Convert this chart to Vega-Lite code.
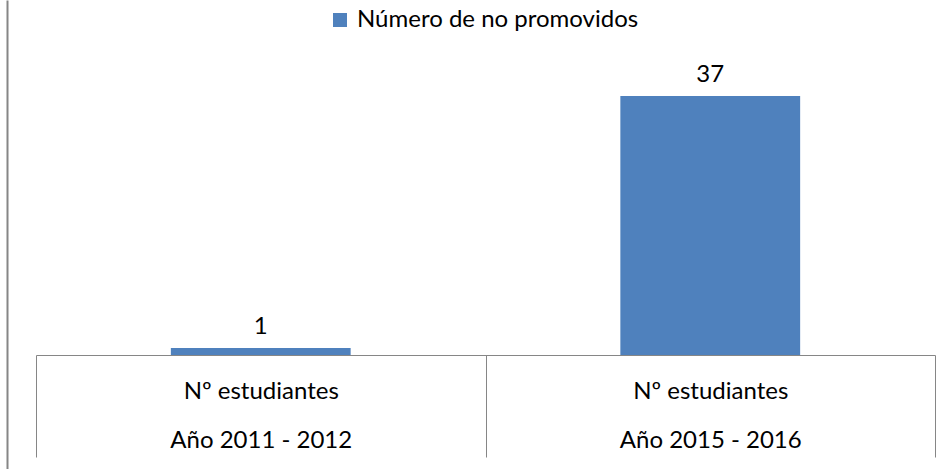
{
  "$schema": "https://vega.github.io/schema/vega-lite/v6.json",
  "width": 951,
  "height": 469,
  "autosize": "none",
  "padding": 0,
  "background": "white",
  "config": {
    "view": {"stroke": null},
    "font": "Lato",
    "text": {"font": "Lato"}
  },
  "data": {
    "values": [
      {"cat": "Año 2011 - 2012", "value": 1, "serie": "Número de no promovidos"},
      {"cat": "Año 2015 - 2016", "value": 37, "serie": "Número de no promovidos"}
    ]
  },
  "encoding": {
    "x": {
      "field": "cat",
      "type": "nominal",
      "sort": null,
      "scale": {"range": [36, 935], "paddingInner": 0, "paddingOuter": 0},
      "axis": {
        "title": null,
        "orient": "bottom",
        "offset": -114,
        "domainColor": "#868686",
        "domainWidth": 1,
        "tickColor": "#868686",
        "tickWidth": 1,
        "tickSize": 102,
        "tickBand": "extent",
        "labelAngle": 0,
        "labelExpr": "datum.label ? ['Nº estudiantes', datum.label] : ''",
        "labelFont": "Lato",
        "labelFontSize": 24,
        "labelColor": "#000000",
        "labelLineHeight": 49,
        "labelBaseline": "middle",
        "labelPadding": -66,
        "labelLimit": 400
      }
    },
    "y": {
      "field": "value",
      "type": "quantitative",
      "scale": {"domain": [-16.29, 50.71], "nice": false, "zero": false},
      "axis": {
        "title": null,
        "orient": "left",
        "offset": -7,
        "labels": false,
        "ticks": false,
        "grid": false,
        "domainColor": "#868686",
        "domainWidth": 2
      }
    }
  },
  "layer": [
    {
      "mark": {"type": "bar", "width": {"band": 0.4}},
      "encoding": {
        "color": {
          "field": "serie",
          "type": "nominal",
          "scale": {"range": ["#4F81BD"]},
          "legend": {
            "title": null,
            "orient": "none",
            "legendX": 328,
            "legendY": 8,
            "symbolType": "square",
            "symbolSize": 196,
            "symbolStrokeWidth": 0,
            "labelFont": "Lato",
            "labelFontSize": 24,
            "labelColor": "#000000",
            "labelOffset": 5,
            "labelLimit": 500
          }
        }
      }
    },
    {
      "mark": {"type": "text", "baseline": "bottom", "dy": -9, "fontSize": 24, "font": "Lato", "color": "#000000"},
      "encoding": {
        "text": {"field": "value", "type": "quantitative"}
      }
    }
  ]
}
